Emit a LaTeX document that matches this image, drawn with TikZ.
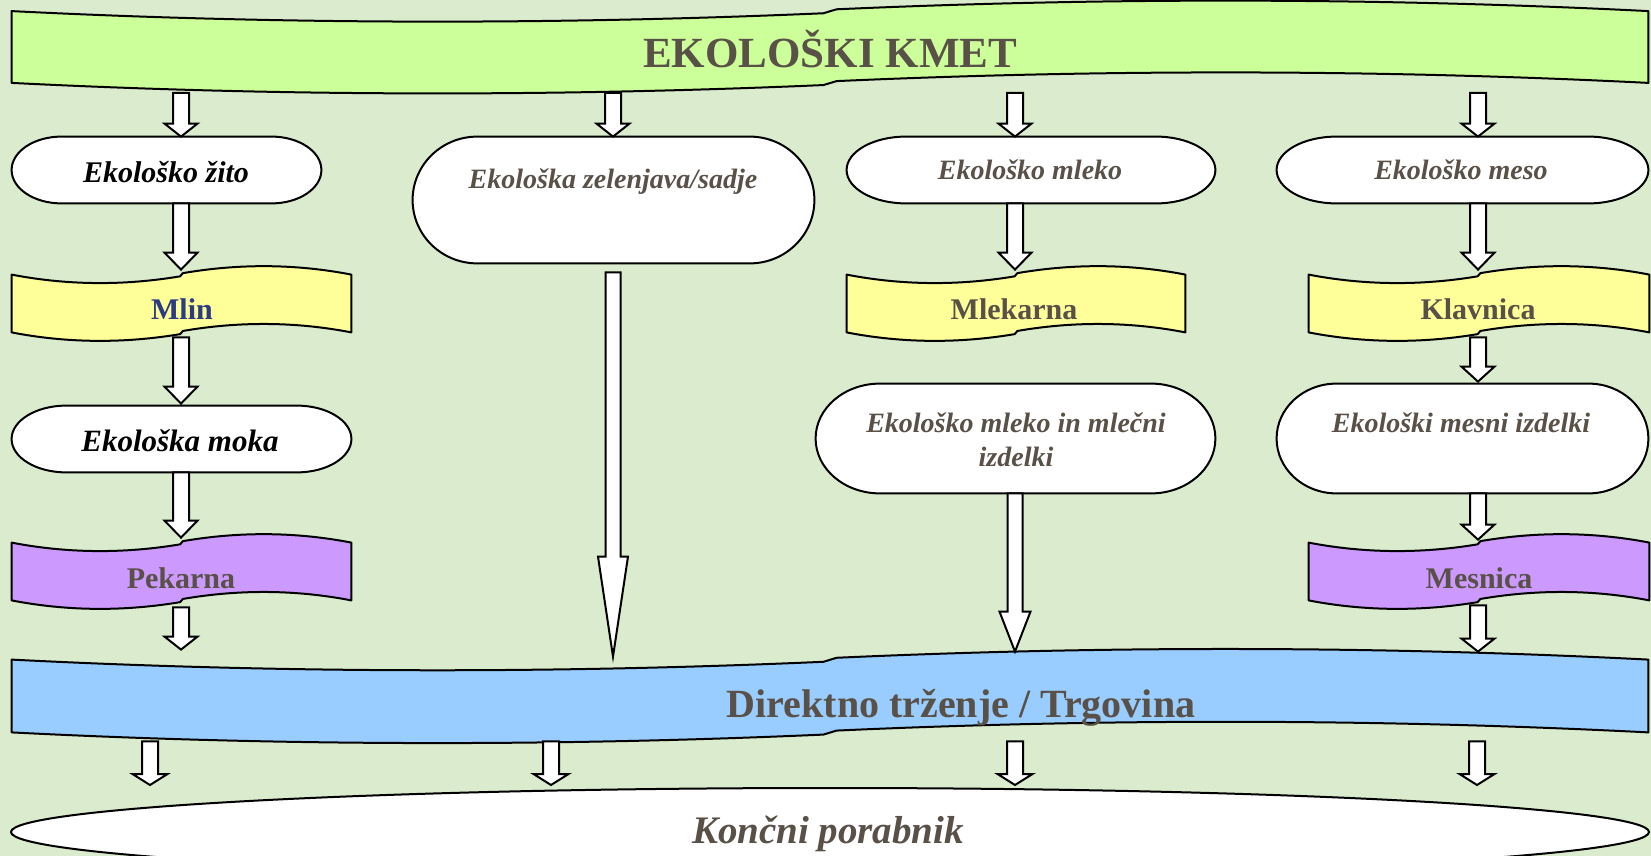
\documentclass[tikz,border=0pt]{standalone}
\usepackage{fontspec}
\setmainfont{Liberation Serif}
\usetikzlibrary{shapes.misc,shapes.geometric,calc}
\definecolor{bgc}{RGB}{219,235,205}
\definecolor{kmetc}{RGB}{204,255,153}
\definecolor{yelc}{RGB}{255,255,153}
\definecolor{purc}{RGB}{204,153,255}
\definecolor{bluc}{RGB}{153,204,255}
\definecolor{txtc}{RGB}{89,80,71}
\definecolor{mlinc}{RGB}{43,60,130}
\tikzset{
  wavebox/.style={rectangle, inner sep=0pt},
  termbox/.style={rectangle, inner sep=0pt},
  arrowbox/.style={draw=black, line width=1pt, fill=white, line join=miter},
  lbl/.style={anchor=base, inner sep=0pt, text=txtc},
}
% wave banner drawn over the box of a named node
\newcommand{\wavefill}[2]{%
 \path[draw=black, line width=1pt, fill=#2, line join=round]
 let \p1=(#1.north west), \p2=(#1.south east) in
 (\x1,\y1)
 .. controls ({\x1+(\x2-\x1)/6},{\y1-0.19*(\y1-\y2)}) and ({\x1+(\x2-\x1)/3},{\y1-0.19*(\y1-\y2)}) .. ({0.504*\x1+0.496*\x2},{\y1-0.03*(\y1-\y2)})
 -- ({0.496*\x1+0.504*\x2},{\y1+0.025*(\y1-\y2)})
 .. controls ({\x1+2*(\x2-\x1)/3},{\y1+0.19*(\y1-\y2)}) and ({\x1+5*(\x2-\x1)/6},{\y1+0.19*(\y1-\y2)}) .. (\x2,\y1)
 -- (\x2,\y2)
 .. controls ({\x1+5*(\x2-\x1)/6},{\y2+0.19*(\y1-\y2)}) and ({\x1+2*(\x2-\x1)/3},{\y2+0.19*(\y1-\y2)}) .. ({0.496*\x1+0.504*\x2},{\y2+0.025*(\y1-\y2)})
 -- ({0.504*\x1+0.496*\x2},{\y2-0.03*(\y1-\y2)})
 .. controls ({\x1+(\x2-\x1)/3},{\y2-0.19*(\y1-\y2)}) and ({\x1+(\x2-\x1)/6},{\y2-0.19*(\y1-\y2)}) .. (\x1,\y2)
 -- cycle;}
% terminator (elliptic ends) drawn over the box of a named node
\newcommand{\termfill}[1]{%
 \path[draw=black, line width=1pt, fill=white]
 let \p1=(#1.north west), \p2=(#1.south east) in
 ({\x1+0.161*(\x2-\x1)},\y1) -- ({\x2-0.161*(\x2-\x1)},\y1)
 arc[start angle=90, end angle=-90, x radius={0.161*(\x2-\x1)}, y radius={(\y1-\y2)/2}]
 -- ({\x1+0.161*(\x2-\x1)},\y2)
 arc[start angle=270, end angle=90, x radius={0.161*(\x2-\x1)}, y radius={(\y1-\y2)/2}]
 -- cycle;}
% block arrow: from, to, start shift, tip shift, half shaft, half head, head length (pt)
\newcommand{\barrow}[7]{%
 \path[arrowbox] let \p1=(#1), \p2=(#2) in
 ({\x1-#5},{\y1-(#3)}) -- ({\x1+#5},{\y1-(#3)}) -- ({\x1+#5},{\y2-(#4)+#7}) -- ({\x1+#6},{\y2-(#4)+#7})
 -- (\x1,{\y2-(#4)}) -- ({\x1-#6},{\y2-(#4)+#7}) -- ({\x1-#5},{\y2-(#4)+#7}) -- cycle;}
\begin{document}
\begin{tikzpicture}[x=0.5pt,y=-0.5pt]
\useasboundingbox (0,0) rectangle (1651,856);
\clip (0,0) rectangle (1651,856);
\fill[bgc] (0,0) rectangle (1651,856);
\coordinate (c1) at (181,0);
\coordinate (c2) at (613,0);
\coordinate (c3) at (1015,0);
\coordinate (c4) at (1478,0);
\coordinate (b1) at (150,0);
\coordinate (b2) at (551,0);
\coordinate (b3) at (1015,0);
\coordinate (b4) at (1477,0);
% wave banners
\node[wavebox, minimum width=818pt, minimum height=35.5pt] (top) at (830,47) {};
\node[wavebox, minimum width=818pt, minimum height=36pt] (blue) at (830,696) {};
\node[wavebox, minimum width=169.5pt, minimum height=28.5pt] (mlin) at (181.5,303.5) {};
\node[wavebox, minimum width=169pt, minimum height=28.5pt] (mlekarna) at (1016,303.5) {};
\node[wavebox, minimum width=170pt, minimum height=28.5pt] (klavnica) at (1479,303.5) {};
\node[wavebox, minimum width=169.5pt, minimum height=28.5pt] (pekarna) at (181.5,571.5) {};
\node[wavebox, minimum width=170pt, minimum height=28.5pt] (mesnica) at (1479,571.5) {};
\wavefill{top}{kmetc}
\wavefill{blue}{bluc}
\wavefill{mlin}{yelc}
\wavefill{mlekarna}{yelc}
\wavefill{klavnica}{yelc}
\wavefill{pekarna}{purc}
\wavefill{mesnica}{purc}
% terminators
\node[termbox, minimum width=154.5pt, minimum height=33pt] (zito) at (166.5,170) {};
\node[termbox, minimum width=200.5pt, minimum height=63pt] (zelen) at (613.5,200) {};
\node[termbox, minimum width=184pt, minimum height=33pt] (mleko) at (1031,170) {};
\node[termbox, minimum width=185.5pt, minimum height=33pt] (meso) at (1462.5,170) {};
\node[termbox, minimum width=169.5pt, minimum height=33pt] (moka) at (181.5,439) {};
\node[termbox, minimum width=199.5pt, minimum height=54.5pt] (izdelki) at (1015.5,438.5) {};
\node[termbox, minimum width=185.5pt, minimum height=54.5pt] (mesni) at (1462.5,438.5) {};
\termfill{zito}
\termfill{zelen}
\termfill{mleko}
\termfill{meso}
\termfill{moka}
\termfill{izdelki}
\termfill{mesni}
\node[ellipse, draw=black, line width=1pt, fill=white, inner sep=0pt, minimum width=819pt, minimum height=44pt] (kon) at (830,832) {};
% arrows
\barrow{top.south -| c1}{zito.north -| c1}{5}{0}{4}{8.25}{6.5}
\barrow{top.south -| c2}{zelen.north -| c2}{5}{0}{4}{8.25}{6.5}
\barrow{top.south -| c3}{mleko.north -| c3}{5}{0}{4}{8.25}{6.5}
\barrow{top.south -| c4}{meso.north -| c4}{5}{0}{4}{8.25}{6.5}
\barrow{zito.south -| c1}{mlin.north -| c1}{0}{-2.5}{4}{8.25}{8.5}
\barrow{mlin.south -| c1}{moka.north -| c1}{2.5}{-1}{4}{8.25}{8.5}
\barrow{moka.south -| c1}{pekarna.north -| c1}{0}{-2.5}{4}{8.25}{8.5}
\barrow{pekarna.south -| c1}{blue.north -| c1}{3.5}{-5}{4}{8.25}{6.5}
\barrow{zelen.south -| c2}{blue.north -| c2}{4.5}{-1.5}{3.75}{7.5}{50}
\barrow{mleko.south -| c3}{mlekarna.north -| c3}{0}{-2.5}{4}{8.25}{8.5}
\barrow{izdelki.south -| c3}{blue.north -| c3}{0}{-4}{3.75}{7.75}{20}
\barrow{meso.south -| c4}{klavnica.north -| c4}{0}{-2.5}{4}{8.25}{8.5}
\barrow{klavnica.south -| c4}{mesni.north -| c4}{2.5}{-1}{4}{8.25}{7.5}
\barrow{mesni.south -| c4}{mesnica.north -| c4}{0}{-1.5}{4}{8.25}{7.5}
\barrow{mesnica.south -| c4}{blue.north -| c4}{2.5}{-4}{4}{8.25}{6.5}
\barrow{blue.south -| b1}{kon.north -| b1}{4.5}{-1}{4}{8.75}{5.5}
\barrow{blue.south -| b2}{kon.north -| b2}{4.5}{-1}{4}{8.75}{5.5}
\barrow{blue.south -| b3}{kon.north -| b3}{4.5}{-1}{4}{8.75}{5.5}
\barrow{blue.south -| b4}{kon.north -| b4}{4.5}{-1}{4}{8.75}{5.5}
% texts
\node[lbl, font=\fontsize{21.5pt}{25pt}\selectfont\bfseries] (topT) at (830,68) {EKOLOŠKI KMET};
\node[lbl, text=black, font=\fontsize{15pt}{18pt}\selectfont\bfseries\itshape] (zitoT) at (166,183) {Ekološko žito};
\node[lbl, font=\fontsize{14pt}{17pt}\selectfont\bfseries\itshape] (zelenT) at (613,189) {Ekološka zelenjava/sadje};
\node[lbl, font=\fontsize{14pt}{17pt}\selectfont\bfseries\itshape] (mlekoT) at (1030,180) {Ekološko mleko};
\node[lbl, font=\fontsize{14pt}{17pt}\selectfont\bfseries\itshape] (mesoT) at (1461,180) {Ekološko meso};
\node[lbl, text=mlinc, font=\fontsize{15pt}{18pt}\selectfont\bfseries] (mlinT) at (182,320) {Mlin};
\node[lbl, font=\fontsize{15pt}{18pt}\selectfont\bfseries] (mlekarnaT) at (1014,320) {Mlekarna};
\node[lbl, font=\fontsize{15pt}{18pt}\selectfont\bfseries] (klavnicaT) at (1478,320) {Klavnica};
\node[lbl, text=black, font=\fontsize{15.5pt}{18pt}\selectfont\bfseries\itshape] (mokaT) at (180,451) {Ekološka moka};
\node[lbl, font=\fontsize{15pt}{18pt}\selectfont\bfseries] (pekarnaT) at (181,588) {Pekarna};
\node[lbl, font=\fontsize{15pt}{18pt}\selectfont\bfseries] (mesnicaT) at (1479,588) {Mesnica};
\node[lbl, anchor=center, align=center, font=\fontsize{14pt}{17pt}\selectfont\bfseries\itshape] (izdelkiT) at (1016,439.5) {Ekološko mleko in mlečni\\izdelki};
\node[lbl, font=\fontsize{14pt}{17pt}\selectfont\bfseries\itshape] (mesniT) at (1461,432) {Ekološki mesni izdelki};
\node[lbl, font=\fontsize{20pt}{24pt}\selectfont\bfseries] (blueT) at (961,717) {Direktno trženje / Trgovina};
\node[lbl, font=\fontsize{19.5pt}{23pt}\selectfont\bfseries\itshape] (konT) at (828,843) {Končni porabnik};
\end{tikzpicture}
\end{document}
